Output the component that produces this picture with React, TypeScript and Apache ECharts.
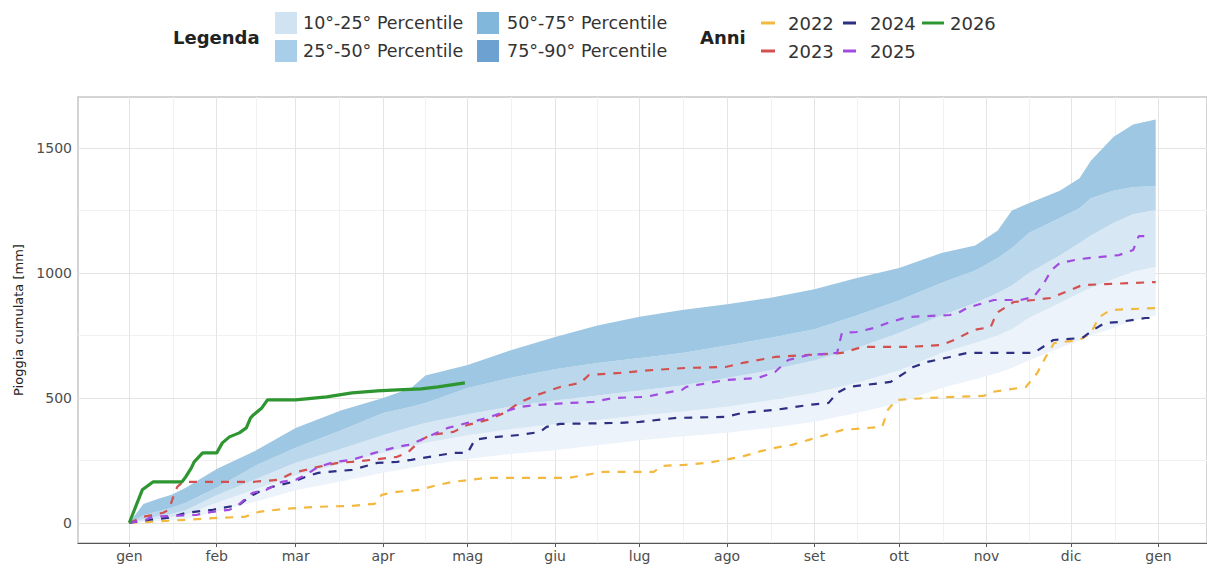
import React, { useEffect, useRef } from "react";
import * as echarts from "echarts";

// ---- axes ----
const MONTH_DAYS = [0, 31, 59, 90, 120, 151, 181, 212, 243, 273, 304, 334, 365];
const MONTH_LABELS = ["gen", "feb", "mar", "apr", "mag", "giu", "lug", "ago", "set", "ott", "nov", "dic", "gen"];
const MINOR_DAYS = [15.5, 45, 74.5, 105, 135.5, 166, 196.5, 227.5, 258, 288.5, 319, 349.5];
const Y_TICKS = [0, 500, 1000, 1500];
const Y_MINOR = [250, 750, 1250];

// ---- percentile bands (day of year -> cumulative mm) ----
const BAND_DAYS = [0, 5, 10, 15, 20, 31, 45, 59, 75, 90, 100, 105, 120, 135, 151, 166, 181, 196, 212, 227, 243, 258, 273, 288, 300, 308, 313, 319, 330, 337, 341, 349, 356, 364];
const P10 = [0, 3, 6, 10, 15, 45, 85, 130, 165, 200, 220, 230, 255, 275, 290, 310, 330, 345, 360, 380, 405, 440, 480, 540, 575, 600, 620, 650, 700, 730, 750, 780, 810, 830];
const P25 = [0, 8, 15, 22, 32, 80, 135, 190, 235, 280, 305, 320, 350, 375, 395, 412, 430, 445, 465, 490, 520, 560, 610, 680, 720, 750, 775, 820, 880, 920, 940, 975, 1005, 1024];
const P50 = [0, 15, 25, 35, 50, 110, 175, 240, 295, 350, 385, 400, 435, 465, 490, 510, 530, 550, 580, 610, 650, 700, 760, 830, 880, 920, 950, 1000, 1070, 1120, 1150, 1200, 1235, 1252];
const P75 = [0, 30, 45, 60, 80, 140, 230, 300, 370, 440, 465, 480, 540, 580, 615, 640, 660, 680, 710, 740, 775, 830, 890, 960, 1010, 1060, 1100, 1160, 1220, 1260, 1300, 1330, 1345, 1348];
const P90 = [0, 75, 95, 112, 140, 215, 290, 380, 450, 500, 540, 590, 632, 690, 744, 790, 825, 852, 875, 900, 935, 980, 1020, 1080, 1110, 1170, 1250, 1280, 1330, 1380, 1450, 1545, 1595, 1615];
const BAND_NAMES = ["10°-25° Percentile", "25°-50° Percentile", "50°-75° Percentile", "75°-90° Percentile"];

// ---- yearly cumulative rainfall [day, mm] ----
const Y2022 = [[0,0],[8,4],[20,12],[32,20],[41,24],[46,44],[55,56],[67,64],[79,68],[87,76],[89.5,112],[95,124],[103,132],[109.5,152],[115,164],[127,180],[156,180],[162,192],[168,204],[186,204],[189,228],[197,232],[205,240],[211,252],[217,264],[223,284],[229,300],[235,312],[241,332],[247,352],[253,372],[267,384],[269,452],[272,492],[283,500],[292,504],[303,508],[306,524],[318,544],[322,600],[325,664],[328,720],[337,732],[341,760],[344,824],[348,852],[364,860]];
const Y2023 = [[0,0],[5,24],[12,40],[14,52],[15.6,104],[17,144],[19,164],[44,164],[53,172],[58,200],[62.6,212],[67,224],[74,240],[79,244],[86,252],[95,264],[99,284],[103.5,332],[107,352],[115,364],[120,392],[127,412],[133,440],[138.7,484],[144.7,512],[152.8,544],[160,560],[163,592],[174,600],[186,612],[197.5,620],[211.5,624],[217.5,640],[229,664],[241,672],[252.7,680],[260,704],[276,704],[288,712],[292.5,732],[299.5,772],[305.5,784],[307.6,840],[313.6,884],[320.7,892],[326.6,900],[332,924],[338,952],[364,964]];
const Y2024 = [[0,0],[7.4,12],[14,20],[20,40],[29.6,52],[39,72],[42.6,104],[46,124],[50.7,144],[58,164],[62.6,184],[67,200],[79,212],[88,240],[95,244],[100,252],[115,280],[120,280],[122.5,332],[127,340],[138.7,352],[145.7,364],[148,384],[152.8,396],[174,400],[181,404],[194,420],[211.5,424],[217.5,440],[229,452],[241,472],[248,480],[251,520],[255,544],[270,564],[275,600],[278,624],[283,644],[291,664],[297,680],[320.7,680],[324,704],[327.7,732],[338,740],[341.8,772],[346,800],[351,804],[360.4,820],[364,820]];
const Y2025 = [[0,0],[6,12],[8,24],[24,32],[29.6,44],[35.5,52],[38,64],[41.5,100],[43.7,120],[48.6,132],[54,164],[59,172],[62.6,192],[67,224],[73,244],[79,252],[87,280],[95,304],[99,312],[103.5,332],[113,380],[120,400],[127,420],[135,452],[138.7,464],[144.7,472],[156,480],[164.7,484],[171.8,500],[183,504],[190,520],[196,532],[197.5,544],[205.6,560],[211.5,572],[223,580],[229,604],[233.7,652],[241,672],[251,680],[252.7,760],[258,764],[264,780],[270,804],[276,824],[291,832],[294,840],[297,860],[306.6,892],[316,892],[320.7,904],[324,952],[327,1012],[330,1040],[337,1056],[351,1072],[356,1092],[358,1148],[362,1148]];
const Y2026 = [[0,0],[4.6,132],[8.5,164],[18.7,164],[20,184],[22,220],[23,244],[26,280],[31,280],[33,320],[35.5,344],[39,360],[41.5,380],[43,420],[44,432],[47,460],[49,492],[59,492],[70,504],[79,520],[88,528],[95,532],[103.5,536],[109.5,544],[119,560]];
const YEARS = ["2022", "2023", "2024", "2025", "2026"];
const YEAR_DATA = [Y2022, Y2023, Y2024, Y2025, Y2026];

// ---- styles ----
const FONT = "DejaVu Sans";
const BAND_FILL = ["#edf3fa", "#d7e7f4", "#bbd7ec", "#9dc7e2"];
const LEGEND_FILL = ["#cfe3f3", "#a9cee9", "#82b7dc", "#6ca1d1"];
const YEAR_COLORS = ["#f3b93f", "#d2504f", "#2d2f82", "#a24be0", "#2e9631"];

export default function App() {
  const ref = useRef<HTMLDivElement>(null);
  useEffect(() => {
    if (!ref.current) return;
    const chart = echarts.init(ref.current, null, { renderer: "svg" });
    const bounds = [P10, P25, P50, P75, P90];

    const gridLines: any[] = [
      ...MINOR_DAYS.map((v) => ({ xAxis: v, lineStyle: { color: "#f1f1f1", width: 1, type: "solid" } })),
      ...Y_MINOR.map((v) => ({ yAxis: v, lineStyle: { color: "#f1f1f1", width: 1, type: "solid" } })),
      ...MONTH_DAYS.map((v) => ({ xAxis: v, lineStyle: { color: "#e4e4e4", width: 1, type: "solid" } })),
      ...Y_TICKS.map((v) => ({ yAxis: v, lineStyle: { color: "#e4e4e4", width: 1, type: "solid" } })),
    ];

    const series: any[] = [
      {
        type: "line",
        name: "grid",
        data: [[0, 0]],
        showSymbol: false,
        lineStyle: { opacity: 0 },
        silent: true,
        z: 1,
        markLine: { silent: true, z: 1, symbol: ["none", "none"], label: { show: false }, animation: false, data: gridLines },
      },
      {
        type: "custom",
        name: "bands",
        silent: true,
        z: 2,
        data: BAND_NAMES.map((_, i) => [i, 0]),
        encode: { x: 0, y: 1 },
        renderItem: (params: any, api: any) => {
          const i = params.dataIndex;
          const lower = bounds[i];
          const upper = bounds[i + 1];
          const pts: number[][] = [];
          for (let k = 0; k < BAND_DAYS.length; k++) pts.push(api.coord([BAND_DAYS[k], upper[k]]));
          for (let k = BAND_DAYS.length - 1; k >= 0; k--) pts.push(api.coord([BAND_DAYS[k], lower[k]]));
          return { type: "polygon", shape: { points: pts }, style: { fill: BAND_FILL[i] } };
        },
      },
      ...YEARS.map((y, i) => ({
        type: "line",
        name: y,
        data: YEAR_DATA[i],
        showSymbol: false,
        silent: true,
        z: 3 + i,
        lineStyle: {
          color: YEAR_COLORS[i],
          width: y === "2026" ? 3.2 : 2.2,
          type: y === "2026" ? "solid" : [8, 8],
        },
      })),
    ];

    const legendRow = [23, 51];
    const graphic: any[] = [
      { type: "text", x: 173, y: 37, style: { text: "Legenda", fontFamily: FONT, fontSize: 18, fontWeight: "bold", fill: "#222", verticalAlign: "middle", align: "left" } },
      ...BAND_NAMES.map((n, i) => ({
        type: "rect",
        shape: { x: i < 2 ? 275 : 477, y: legendRow[i % 2] - 11, width: 22, height: 22 },
        style: { fill: LEGEND_FILL[i] },
      })),
      ...BAND_NAMES.map((n, i) => ({
        type: "text",
        x: i < 2 ? 303 : 507,
        y: legendRow[i % 2],
        style: { text: n, fontFamily: FONT, fontSize: 17.5, fill: "#333", verticalAlign: "middle", align: "left" },
      })),
      { type: "text", x: 700, y: 37, style: { text: "Anni", fontFamily: FONT, fontSize: 18, fontWeight: "bold", fill: "#222", verticalAlign: "middle", align: "left" } },
    ];
    const keyX = [761, 761, 843, 843, 922];
    const keyW = [14, 14, 13, 13, 22];
    const txtX = [788, 788, 870, 870, 950];
    YEARS.forEach((y, i) => {
      const row = legendRow[i === 4 ? 0 : i % 2];
      graphic.push({
        type: "line",
        shape: { x1: keyX[i], y1: row, x2: keyX[i] + keyW[i], y2: row },
        style: { stroke: YEAR_COLORS[i], lineWidth: 3 },
      });
      graphic.push({
        type: "text",
        x: txtX[i],
        y: row,
        style: { text: y, fontFamily: FONT, fontSize: 18, fill: "#333", verticalAlign: "middle", align: "left" },
      });
    });

    chart.setOption({
      animation: false,
      textStyle: { fontFamily: FONT },
      grid: { left: 78, right: -8.6, top: 97, bottom: 25, show: true, borderColor: "#c6c6c6", borderWidth: 1.5, backgroundColor: "transparent" },
      xAxis: {
        type: "value",
        min: -18.2,
        max: 382.2,
        axisLine: { show: true, onZero: false, lineStyle: { color: "#555", width: 1 } },
        axisTick: { show: true, customValues: MONTH_DAYS, length: 4, lineStyle: { color: "#555" } },
        axisLabel: {
          customValues: MONTH_DAYS,
          formatter: (v: number) => MONTH_LABELS[MONTH_DAYS.indexOf(v)] ?? "",
          color: "#4d4d4d",
          fontSize: 14,
          fontFamily: FONT,
          margin: 6,
        },
        splitLine: { show: false },
      },
      yAxis: {
        type: "value",
        min: -81,
        max: 1705,
        name: "Pioggia cumulata [mm]",
        nameLocation: "middle",
        nameGap: 50,
        nameTextStyle: { fontSize: 13, color: "#222", fontFamily: FONT },
        axisLine: { show: false },
        axisTick: { show: true, customValues: Y_TICKS, length: 4, lineStyle: { color: "#999" } },
        axisLabel: {
          customValues: Y_TICKS,
          formatter: (v: number) => String(v),
          color: "#4d4d4d",
          fontSize: 14,
          fontFamily: FONT,
          margin: 6,
        },
        splitLine: { show: false },
      },
      series,
      graphic,
    });
    return () => chart.dispose();
  }, []);
  return <div ref={ref} style={{ position: "absolute", left: 0, top: 0, width: 1207, height: 568 }} />;
}
